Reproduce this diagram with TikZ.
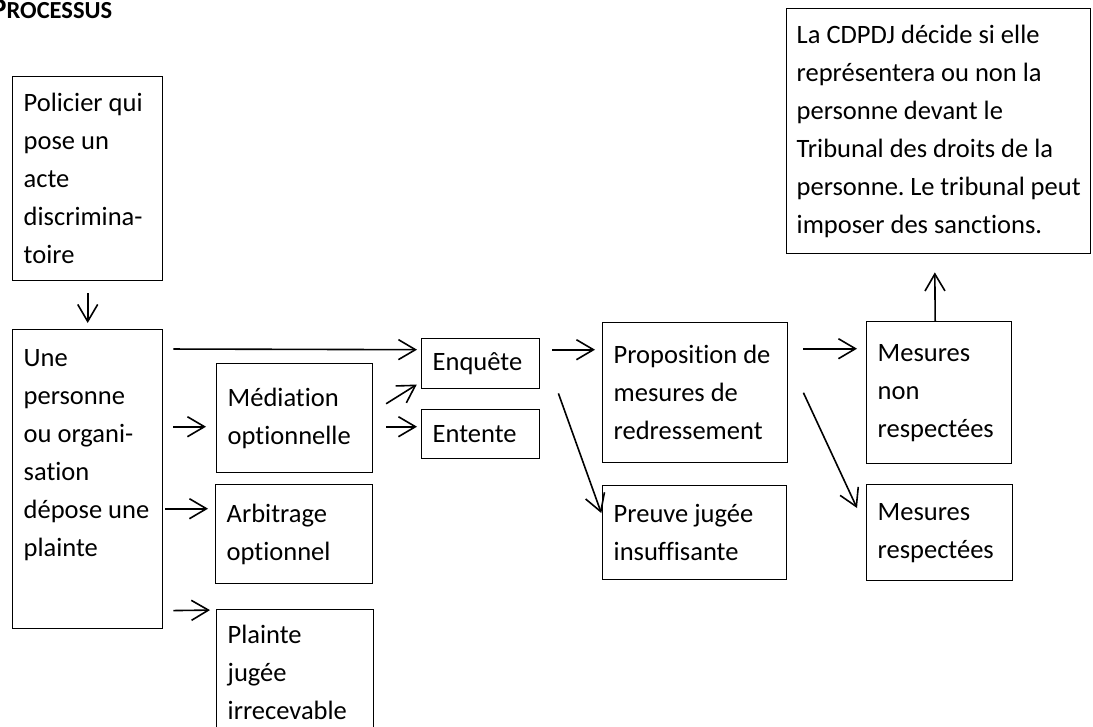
\documentclass[tikz,border=0pt]{standalone}
\usepackage{fontspec}
\setmainfont{Carlito}[Ligatures=NoCommon]
\usetikzlibrary{arrows.meta}
\frenchspacing

\begin{document}
\begin{tikzpicture}[x=1pt, y=-1pt,
    box/.style={draw, line width=1.4pt, anchor=north west, align=flush left, inner xsep=11pt, inner ysep=0pt, font=\fontsize{26.5}{38}\selectfont},
    arr/.style={-{Straight Barb[length=17pt, width=20pt]}, line width=1.6pt}]

    \useasboundingbox (0, 0) rectangle (1093, 726);

    \node[anchor=base west, inner sep=0pt, font=\bfseries] (t) at (-9, 18) {\fontsize{29}{30}\selectfont P\fontsize{24.5}{30}\selectfont ROCESSUS};

    \node[box, text width=128pt, minimum height=204pt] (a) at (12, 76) {Policier qui\\pose un\\acte\\discrimina-\\toire};
    \node[box, text width=128pt, text height=17pt, text depth=242pt, inner ysep=20pt] (b) at (12, 329) {Une\\personne\\ou organi-\\sation\\dépose une\\plainte};
    \node[box, text width=134pt, minimum height=109pt] (c) at (216, 363) {Médiation\\optionnelle};
    \node[box, text width=135pt, minimum height=99pt] (d) at (215, 484) {Arbitrage\\optionnel};
    \node[box, text width=135pt, inner ysep=15pt, text depth=85pt] (e) at (216, 609) {Plainte\\jugée\\irrecevable};
    \node[box, text width=96pt, minimum height=50pt] (f) at (421, 338) {Enquête};
    \node[box, text width=96pt, minimum height=49pt] (g) at (421, 409) {Entente};
    \node[box, text width=163pt, minimum height=140pt] (h) at (602, 322) {Proposition de\\mesures de\\redressement};
    \node[box, text width=162pt, minimum height=94pt] (i) at (602, 485) {Preuve jugée\\insuffisante};
    \node[box, text width=123pt, minimum height=142pt] (j) at (866, 321) {Mesures\\non\\respectées};
    \node[box, text width=124pt, minimum height=96pt] (k) at (866, 484) {Mesures\\respectées};
    \node[box, text width=284pt, minimum height=245pt, inner xsep=10pt] (l) at (786, 8) {La CDPDJ décide si elle\\représentera ou non la\\personne devant le\\Tribunal des droits de la\\personne. Le tribunal peut\\imposer des sanctions.};

    \draw [arr, shorten <=12pt, shorten >=6pt] (a) to (b);
    \draw [arr, shorten <=10pt, shorten >=4pt] ([yshift=-20pt]b.north east) to ([yshift=14pt]f.west);
    \draw [arr, shorten <=10pt, shorten >=10pt] ([yshift=52.5pt]b.east) to ([yshift=-8.5pt]c.west);
    \draw [arr, shorten <=2pt, shorten >=7pt] ([yshift=-29.5pt]b.east) to ([yshift=25.5pt]d.west);
    \draw [arr, shorten <=10pt, shorten >=6pt] ([yshift=-131.5pt]b.east) to ([yshift=-1pt]e.north west);
    \draw [arr, shorten <=15pt, shorten >=5pt] ([yshift=6.5pt]c.east) to ([yshift=7.5pt]f.south west);
    \draw [arr, shorten <=13pt, shorten >=4pt] ([yshift=-8.5pt]c.east) to ([yshift=7.5pt]g.west);
    \draw [arr, shorten <=12pt, shorten >=7pt] ([yshift=14pt]f.east) to ([yshift=43pt]h.west);
    \draw [arr, shorten >=2pt] ([xshift=18pt, yshift=-4pt]f.south east) to ([yshift=-30pt]i.north west);
    \draw [arr, shorten <=15pt, shorten >=9pt] ([yshift=44pt]h.east) to ([yshift=44pt]j.west);
    \draw [arr] ([xshift=15pt]h.east) to ([xshift=-9pt, yshift=-24pt]k.north west);
    \draw [arr, shorten >=18pt] ([xshift=-4pt]j.north) to ([xshift=-4pt]l.south);

\end{tikzpicture}
\end{document}
